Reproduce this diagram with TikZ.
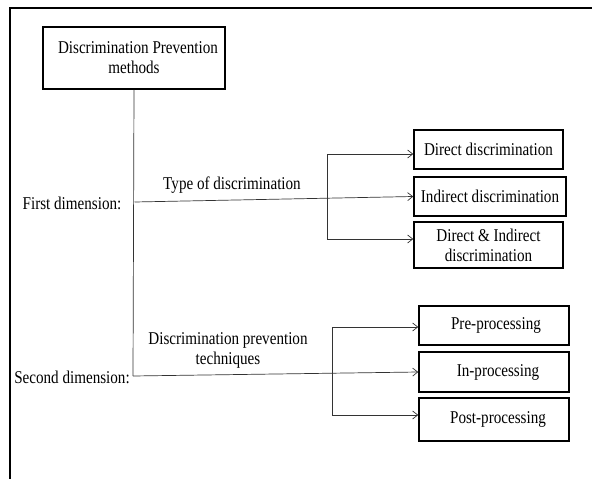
\documentclass[tikz,border=0pt]{standalone}
\usepackage{fontspec}
\setmainfont{Liberation Serif}[FakeStretch=0.84]
\usetikzlibrary{arrows.meta}
\begin{document}
\begin{tikzpicture}[x=1pt,y=-1pt,
 txt/.style={inner sep=0pt,align=center,font=\fontsize{18}{20}\selectfont},
 box/.style={txt,draw=black,line width=1.6pt},
 conn/.style={draw=black!80,line width=0.7pt},
 arr/.style={conn,-{Straight Barb[length=5pt,width=8pt]}}]
\useasboundingbox (0,0) rectangle (592,479);
\draw[line width=1.6pt] (10,479) -- (10,8) -- (592,8);
\node[box,minimum width=182pt,minimum height=62pt] (top) at (134,58) {\hspace*{8pt}Discrimination Prevention\\methods};
\node[box,minimum width=149pt,minimum height=39pt] (direct) at (488.5,149.5) {\raisebox{-1pt}{Direct discrimination}};
\node[box,minimum width=152pt,minimum height=39pt] (indirect) at (490,196.5) {\raisebox{-1pt}{Indirect discrimination}};
\node[box,minimum width=149pt,minimum height=46pt] (dandi) at (488.5,245) {Direct \& Indirect\\discrimination};
\node[box,minimum width=150pt,minimum height=39pt] (pre) at (494,325.5) {\hspace*{4pt}\raisebox{-3pt}{Pre-processing}};
\node[box,minimum width=150pt,minimum height=40pt] (inproc) at (494,372) {\hspace*{8pt}\raisebox{-3pt}{In-processing}};
\node[box,minimum width=150pt,minimum height=43pt] (post) at (494,419.5) {\hspace*{8pt}\raisebox{-1pt}{Post-processing}};
\node[txt] (first) at (72,203) {First dimension:};
\node[txt] (second) at (72,377) {Second dimension:};
\node[txt] (type) at (232,185) {Type of discrimination};
\node[txt] (tech) at (228,350) {Discrimination prevention\\techniques};
\coordinate (j1) at (134.5,202);
\coordinate (j2) at (133,376);
\coordinate (b1) at (327,154);
\coordinate (b2) at (327,239);
\coordinate (c1) at (332,327);
\coordinate (c2) at (332,415);
\draw[conn] (top.south) -- (j2);
\draw[arr] (j1) -- (indirect.west);
\draw[conn] (b1) -- (b2);
\draw[arr] (b1) -- (b1 -| direct.west);
\draw[arr] (b2) -- (b2 -| dandi.west);
\draw[arr] (j2) -- (inproc.west);
\draw[conn] (c1) -- (c2);
\draw[arr] (c1) -- (c1 -| pre.west);
\draw[arr] (c2) -- (c2 -| post.west);
\end{tikzpicture}
\end{document}
